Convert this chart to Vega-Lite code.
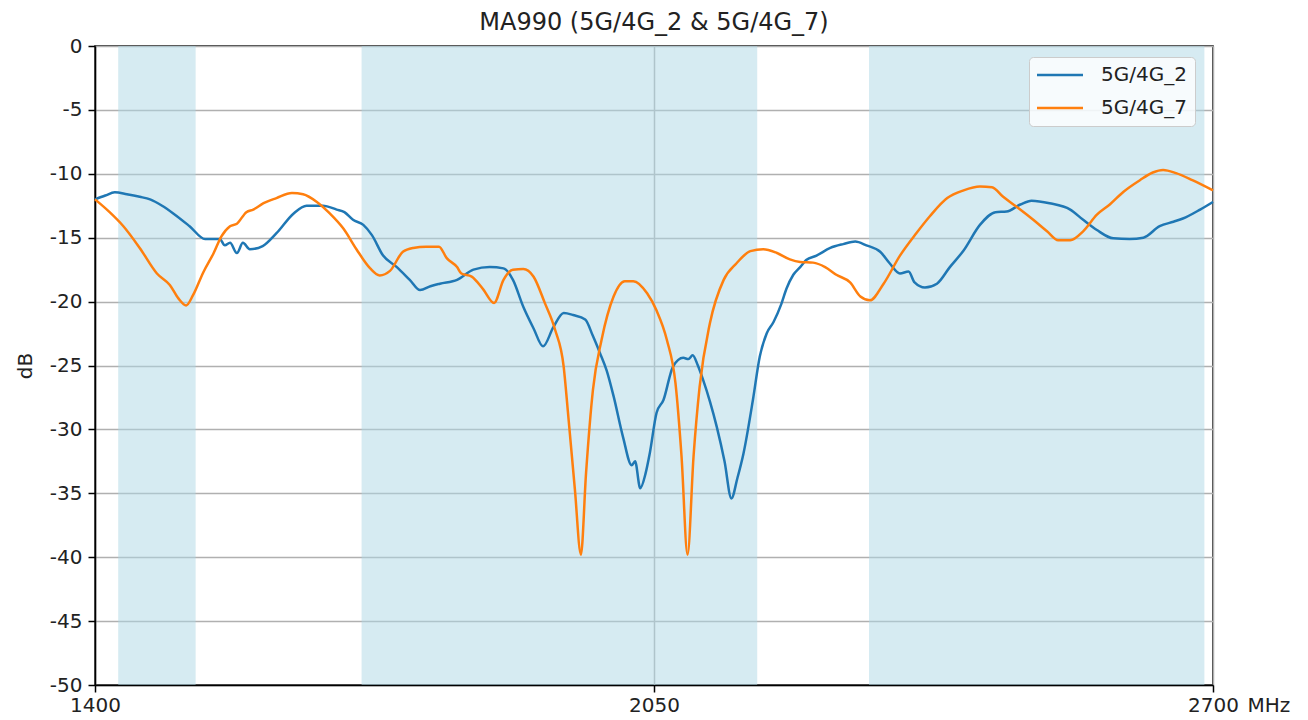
{
  "$schema": "https://vega.github.io/schema/vega-lite/v6.json",
  "autosize": "none",
  "width": 1118,
  "height": 639,
  "padding": {"left": 95, "top": 46, "right": 95, "bottom": 35},
  "background": "white",
  "config": {
    "font": "DejaVu Sans",
    "view": {"stroke": "black", "strokeWidth": 1.5},
    "axis": {"labelFont": "DejaVu Sans", "titleFont": "DejaVu Sans", "labelColor": "#222", "titleColor": "#222"}
  },
  "title": {"text": "MA990 (5G/4G_2 & 5G/4G_7)", "fontSize": 24, "font": "DejaVu Sans", "fontWeight": "normal", "color": "#222", "offset": 1},
  "datasets": {
    "bands": [
      {"start": 1427, "end": 1517},
      {"start": 1710, "end": 2170},
      {"start": 2300, "end": 2690}
    ],
    "curves": [
      {"series": "5G/4G_2", "freq": 1400, "db": -12.0},
      {"series": "5G/4G_2", "freq": 1412, "db": -11.7},
      {"series": "5G/4G_2", "freq": 1423, "db": -11.45},
      {"series": "5G/4G_2", "freq": 1437, "db": -11.6},
      {"series": "5G/4G_2", "freq": 1452, "db": -11.8},
      {"series": "5G/4G_2", "freq": 1464, "db": -12.0},
      {"series": "5G/4G_2", "freq": 1478, "db": -12.5},
      {"series": "5G/4G_2", "freq": 1491, "db": -13.1},
      {"series": "5G/4G_2", "freq": 1510, "db": -14.1},
      {"series": "5G/4G_2", "freq": 1528, "db": -15.1},
      {"series": "5G/4G_2", "freq": 1545, "db": -15.1},
      {"series": "5G/4G_2", "freq": 1551, "db": -15.6},
      {"series": "5G/4G_2", "freq": 1557, "db": -15.4},
      {"series": "5G/4G_2", "freq": 1565, "db": -16.2},
      {"series": "5G/4G_2", "freq": 1572, "db": -15.4},
      {"series": "5G/4G_2", "freq": 1580, "db": -15.9},
      {"series": "5G/4G_2", "freq": 1595, "db": -15.65},
      {"series": "5G/4G_2", "freq": 1611, "db": -14.65},
      {"series": "5G/4G_2", "freq": 1631, "db": -13.1},
      {"series": "5G/4G_2", "freq": 1646, "db": -12.5},
      {"series": "5G/4G_2", "freq": 1665, "db": -12.5},
      {"series": "5G/4G_2", "freq": 1681, "db": -12.8},
      {"series": "5G/4G_2", "freq": 1690, "db": -13.0},
      {"series": "5G/4G_2", "freq": 1700, "db": -13.6},
      {"series": "5G/4G_2", "freq": 1712, "db": -14.0},
      {"series": "5G/4G_2", "freq": 1722, "db": -14.8},
      {"series": "5G/4G_2", "freq": 1735, "db": -16.4},
      {"series": "5G/4G_2", "freq": 1751, "db": -17.3},
      {"series": "5G/4G_2", "freq": 1766, "db": -18.3},
      {"series": "5G/4G_2", "freq": 1778, "db": -19.1},
      {"series": "5G/4G_2", "freq": 1790, "db": -18.8},
      {"series": "5G/4G_2", "freq": 1801, "db": -18.6},
      {"series": "5G/4G_2", "freq": 1821, "db": -18.3},
      {"series": "5G/4G_2", "freq": 1840, "db": -17.5},
      {"series": "5G/4G_2", "freq": 1859, "db": -17.3},
      {"series": "5G/4G_2", "freq": 1875, "db": -17.4},
      {"series": "5G/4G_2", "freq": 1886, "db": -18.3},
      {"series": "5G/4G_2", "freq": 1898, "db": -20.4},
      {"series": "5G/4G_2", "freq": 1910, "db": -22.1},
      {"series": "5G/4G_2", "freq": 1921, "db": -23.5},
      {"series": "5G/4G_2", "freq": 1933, "db": -22.0},
      {"series": "5G/4G_2", "freq": 1945, "db": -20.9},
      {"series": "5G/4G_2", "freq": 1956, "db": -21.05},
      {"series": "5G/4G_2", "freq": 1970, "db": -21.4},
      {"series": "5G/4G_2", "freq": 1979, "db": -22.7},
      {"series": "5G/4G_2", "freq": 1987, "db": -24.0},
      {"series": "5G/4G_2", "freq": 1995, "db": -25.4},
      {"series": "5G/4G_2", "freq": 2003, "db": -27.4},
      {"series": "5G/4G_2", "freq": 2014, "db": -30.6},
      {"series": "5G/4G_2", "freq": 2024, "db": -32.8},
      {"series": "5G/4G_2", "freq": 2028, "db": -32.5},
      {"series": "5G/4G_2", "freq": 2034, "db": -34.6},
      {"series": "5G/4G_2", "freq": 2040, "db": -33.5},
      {"series": "5G/4G_2", "freq": 2045, "db": -31.9},
      {"series": "5G/4G_2", "freq": 2053, "db": -28.7},
      {"series": "5G/4G_2", "freq": 2061, "db": -27.7},
      {"series": "5G/4G_2", "freq": 2072, "db": -25.1},
      {"series": "5G/4G_2", "freq": 2084, "db": -24.4},
      {"series": "5G/4G_2", "freq": 2090, "db": -24.5},
      {"series": "5G/4G_2", "freq": 2095, "db": -24.2},
      {"series": "5G/4G_2", "freq": 2101, "db": -25.0},
      {"series": "5G/4G_2", "freq": 2107, "db": -26.1},
      {"series": "5G/4G_2", "freq": 2115, "db": -27.8},
      {"series": "5G/4G_2", "freq": 2123, "db": -29.8},
      {"series": "5G/4G_2", "freq": 2132, "db": -32.5},
      {"series": "5G/4G_2", "freq": 2140, "db": -35.4},
      {"series": "5G/4G_2", "freq": 2147, "db": -33.8},
      {"series": "5G/4G_2", "freq": 2154, "db": -31.9},
      {"series": "5G/4G_2", "freq": 2165, "db": -27.7},
      {"series": "5G/4G_2", "freq": 2173, "db": -24.3},
      {"series": "5G/4G_2", "freq": 2181, "db": -22.5},
      {"series": "5G/4G_2", "freq": 2189, "db": -21.6},
      {"series": "5G/4G_2", "freq": 2198, "db": -20.2},
      {"series": "5G/4G_2", "freq": 2204, "db": -19.0},
      {"series": "5G/4G_2", "freq": 2212, "db": -17.9},
      {"series": "5G/4G_2", "freq": 2220, "db": -17.3},
      {"series": "5G/4G_2", "freq": 2227, "db": -16.75},
      {"series": "5G/4G_2", "freq": 2239, "db": -16.4},
      {"series": "5G/4G_2", "freq": 2255, "db": -15.8},
      {"series": "5G/4G_2", "freq": 2270, "db": -15.5},
      {"series": "5G/4G_2", "freq": 2284, "db": -15.3},
      {"series": "5G/4G_2", "freq": 2297, "db": -15.6},
      {"series": "5G/4G_2", "freq": 2313, "db": -16.1},
      {"series": "5G/4G_2", "freq": 2324, "db": -17.0},
      {"series": "5G/4G_2", "freq": 2336, "db": -17.8},
      {"series": "5G/4G_2", "freq": 2346, "db": -17.65},
      {"series": "5G/4G_2", "freq": 2353, "db": -18.5},
      {"series": "5G/4G_2", "freq": 2365, "db": -18.9},
      {"series": "5G/4G_2", "freq": 2379, "db": -18.6},
      {"series": "5G/4G_2", "freq": 2394, "db": -17.3},
      {"series": "5G/4G_2", "freq": 2410, "db": -16.0},
      {"series": "5G/4G_2", "freq": 2429, "db": -14.0},
      {"series": "5G/4G_2", "freq": 2447, "db": -13.0},
      {"series": "5G/4G_2", "freq": 2460, "db": -12.95},
      {"series": "5G/4G_2", "freq": 2476, "db": -12.4},
      {"series": "5G/4G_2", "freq": 2489, "db": -12.1},
      {"series": "5G/4G_2", "freq": 2510, "db": -12.3},
      {"series": "5G/4G_2", "freq": 2534, "db": -12.8},
      {"series": "5G/4G_2", "freq": 2549, "db": -13.6},
      {"series": "5G/4G_2", "freq": 2565, "db": -14.4},
      {"series": "5G/4G_2", "freq": 2584, "db": -15.05},
      {"series": "5G/4G_2", "freq": 2603, "db": -15.1},
      {"series": "5G/4G_2", "freq": 2619, "db": -15.0},
      {"series": "5G/4G_2", "freq": 2638, "db": -14.1},
      {"series": "5G/4G_2", "freq": 2654, "db": -13.75},
      {"series": "5G/4G_2", "freq": 2665, "db": -13.5},
      {"series": "5G/4G_2", "freq": 2685, "db": -12.8},
      {"series": "5G/4G_2", "freq": 2700, "db": -12.2},
      {"series": "5G/4G_7", "freq": 1400, "db": -12.0},
      {"series": "5G/4G_7", "freq": 1417, "db": -13.0},
      {"series": "5G/4G_7", "freq": 1433, "db": -14.1},
      {"series": "5G/4G_7", "freq": 1452, "db": -15.8},
      {"series": "5G/4G_7", "freq": 1472, "db": -17.8},
      {"series": "5G/4G_7", "freq": 1487, "db": -18.7},
      {"series": "5G/4G_7", "freq": 1497, "db": -19.75},
      {"series": "5G/4G_7", "freq": 1506, "db": -20.3},
      {"series": "5G/4G_7", "freq": 1514, "db": -19.5},
      {"series": "5G/4G_7", "freq": 1526, "db": -17.7},
      {"series": "5G/4G_7", "freq": 1538, "db": -16.2},
      {"series": "5G/4G_7", "freq": 1547, "db": -14.9},
      {"series": "5G/4G_7", "freq": 1557, "db": -14.1},
      {"series": "5G/4G_7", "freq": 1565, "db": -13.9},
      {"series": "5G/4G_7", "freq": 1576, "db": -13.0},
      {"series": "5G/4G_7", "freq": 1584, "db": -12.8},
      {"series": "5G/4G_7", "freq": 1596, "db": -12.3},
      {"series": "5G/4G_7", "freq": 1611, "db": -11.9},
      {"series": "5G/4G_7", "freq": 1629, "db": -11.5},
      {"series": "5G/4G_7", "freq": 1642, "db": -11.6},
      {"series": "5G/4G_7", "freq": 1658, "db": -12.2},
      {"series": "5G/4G_7", "freq": 1673, "db": -13.1},
      {"series": "5G/4G_7", "freq": 1689, "db": -14.3},
      {"series": "5G/4G_7", "freq": 1704, "db": -15.9},
      {"series": "5G/4G_7", "freq": 1720, "db": -17.4},
      {"series": "5G/4G_7", "freq": 1731, "db": -17.95},
      {"series": "5G/4G_7", "freq": 1743, "db": -17.6},
      {"series": "5G/4G_7", "freq": 1758, "db": -16.1},
      {"series": "5G/4G_7", "freq": 1770, "db": -15.8},
      {"series": "5G/4G_7", "freq": 1785, "db": -15.7},
      {"series": "5G/4G_7", "freq": 1800, "db": -15.7},
      {"series": "5G/4G_7", "freq": 1809, "db": -16.6},
      {"series": "5G/4G_7", "freq": 1821, "db": -17.3},
      {"series": "5G/4G_7", "freq": 1826, "db": -17.8},
      {"series": "5G/4G_7", "freq": 1838, "db": -18.05},
      {"series": "5G/4G_7", "freq": 1851, "db": -19.0},
      {"series": "5G/4G_7", "freq": 1864, "db": -20.1},
      {"series": "5G/4G_7", "freq": 1875, "db": -18.3},
      {"series": "5G/4G_7", "freq": 1886, "db": -17.5},
      {"series": "5G/4G_7", "freq": 1898, "db": -17.45},
      {"series": "5G/4G_7", "freq": 1910, "db": -18.05},
      {"series": "5G/4G_7", "freq": 1923, "db": -20.1},
      {"series": "5G/4G_7", "freq": 1935, "db": -22.2},
      {"series": "5G/4G_7", "freq": 1945, "db": -25.1},
      {"series": "5G/4G_7", "freq": 1950, "db": -28.7},
      {"series": "5G/4G_7", "freq": 1958, "db": -34.7},
      {"series": "5G/4G_7", "freq": 1965, "db": -39.8},
      {"series": "5G/4G_7", "freq": 1971, "db": -33.4},
      {"series": "5G/4G_7", "freq": 1979, "db": -26.9},
      {"series": "5G/4G_7", "freq": 1989, "db": -23.0},
      {"series": "5G/4G_7", "freq": 2003, "db": -19.6},
      {"series": "5G/4G_7", "freq": 2016, "db": -18.4},
      {"series": "5G/4G_7", "freq": 2026, "db": -18.4},
      {"series": "5G/4G_7", "freq": 2042, "db": -19.35},
      {"series": "5G/4G_7", "freq": 2053, "db": -20.7},
      {"series": "5G/4G_7", "freq": 2065, "db": -23.0},
      {"series": "5G/4G_7", "freq": 2075, "db": -26.4},
      {"series": "5G/4G_7", "freq": 2082, "db": -32.1},
      {"series": "5G/4G_7", "freq": 2089, "db": -39.8},
      {"series": "5G/4G_7", "freq": 2096, "db": -32.1},
      {"series": "5G/4G_7", "freq": 2103, "db": -26.7},
      {"series": "5G/4G_7", "freq": 2115, "db": -21.7},
      {"series": "5G/4G_7", "freq": 2131, "db": -18.3},
      {"series": "5G/4G_7", "freq": 2146, "db": -17.0},
      {"series": "5G/4G_7", "freq": 2162, "db": -16.05},
      {"series": "5G/4G_7", "freq": 2177, "db": -15.9},
      {"series": "5G/4G_7", "freq": 2193, "db": -16.2},
      {"series": "5G/4G_7", "freq": 2208, "db": -16.7},
      {"series": "5G/4G_7", "freq": 2220, "db": -16.9},
      {"series": "5G/4G_7", "freq": 2235, "db": -16.95},
      {"series": "5G/4G_7", "freq": 2249, "db": -17.3},
      {"series": "5G/4G_7", "freq": 2262, "db": -17.9},
      {"series": "5G/4G_7", "freq": 2278, "db": -18.5},
      {"series": "5G/4G_7", "freq": 2290, "db": -19.6},
      {"series": "5G/4G_7", "freq": 2301, "db": -19.9},
      {"series": "5G/4G_7", "freq": 2317, "db": -18.6},
      {"series": "5G/4G_7", "freq": 2336, "db": -16.4},
      {"series": "5G/4G_7", "freq": 2355, "db": -14.65},
      {"series": "5G/4G_7", "freq": 2371, "db": -13.3},
      {"series": "5G/4G_7", "freq": 2391, "db": -11.9},
      {"series": "5G/4G_7", "freq": 2410, "db": -11.3},
      {"series": "5G/4G_7", "freq": 2429, "db": -11.0},
      {"series": "5G/4G_7", "freq": 2443, "db": -11.05},
      {"series": "5G/4G_7", "freq": 2456, "db": -11.8},
      {"series": "5G/4G_7", "freq": 2472, "db": -12.6},
      {"series": "5G/4G_7", "freq": 2491, "db": -13.6},
      {"series": "5G/4G_7", "freq": 2507, "db": -14.5},
      {"series": "5G/4G_7", "freq": 2520, "db": -15.2},
      {"series": "5G/4G_7", "freq": 2534, "db": -15.2},
      {"series": "5G/4G_7", "freq": 2549, "db": -14.5},
      {"series": "5G/4G_7", "freq": 2565, "db": -13.2},
      {"series": "5G/4G_7", "freq": 2580, "db": -12.4},
      {"series": "5G/4G_7", "freq": 2596, "db": -11.4},
      {"series": "5G/4G_7", "freq": 2615, "db": -10.5},
      {"series": "5G/4G_7", "freq": 2630, "db": -9.9},
      {"series": "5G/4G_7", "freq": 2642, "db": -9.7},
      {"series": "5G/4G_7", "freq": 2657, "db": -9.95},
      {"series": "5G/4G_7", "freq": 2676, "db": -10.5},
      {"series": "5G/4G_7", "freq": 2700, "db": -11.3}
    ]
  },
  "layer": [
    {
      "data": {"name": "bands"},
      "mark": {"type": "rect", "fill": "lightblue", "opacity": 0.5},
      "encoding": {
        "x": {"field": "start", "type": "quantitative", "scale": {"domain": [1400, 2700], "nice": false, "zero": false},
          "axis": {"values": [1400, 2050, 2700], "labelExpr": "'' + datum.value", "grid": true, "gridColor": "#b0b0b0", "gridWidth": 1.5,
            "domainColor": "black", "domainWidth": 1.5, "tickColor": "black", "tickSize": 7, "tickWidth": 1.5, "labelFontSize": 20, "labelPadding": 3, "labelFlush": false,
            "title": "MHz", "titleFontSize": 20, "titleFontWeight": "normal", "titleAnchor": "start", "titleAlign": "left", "titleX": 1152, "titleY": 10, "titleBaseline": "top"}},
        "x2": {"field": "end"},
        "y": {"datum": 0, "type": "quantitative", "scale": {"domain": [-50, 0], "nice": false},
          "axis": {"values": [-50, -45, -40, -35, -30, -25, -20, -15, -10, -5, 0], "labelExpr": "'' + datum.value", "grid": true, "gridColor": "#b0b0b0", "gridWidth": 1.5,
            "domainColor": "black", "domainWidth": 1.5, "tickColor": "black", "tickSize": 7, "tickWidth": 1.5, "labelFontSize": 20, "labelPadding": 6,
            "title": "dB", "titleFontSize": 20, "titleFontWeight": "normal", "titlePadding": 14}},
        "y2": {"datum": -50}
      }
    },
    {
      "data": {"name": "curves"},
      "mark": {"type": "line", "strokeWidth": 2.5, "interpolate": "monotone"},
      "encoding": {
        "x": {"field": "freq", "type": "quantitative"},
        "y": {"field": "db", "type": "quantitative"},
        "color": {"field": "series", "type": "nominal",
          "scale": {"domain": ["5G/4G_2", "5G/4G_7"], "range": ["#1f77b4", "#ff7f0e"]},
          "legend": {"title": null, "orient": "none", "legendX": 934, "legendY": 11, "symbolType": "M-2.875,0H2.875", "symbolSize": 256, "symbolStrokeWidth": 2.5,
            "symbolOffset": 13, "labelOffset": 31,
            "labelFontSize": 20, "labelFont": "DejaVu Sans", "labelColor": "#222", "fillColor": "rgba(255,255,255,0.8)", "strokeColor": "#cccccc", "cornerRadius": 4, "padding": 8, "rowPadding": 13}}
      }
    }
  ]
}
